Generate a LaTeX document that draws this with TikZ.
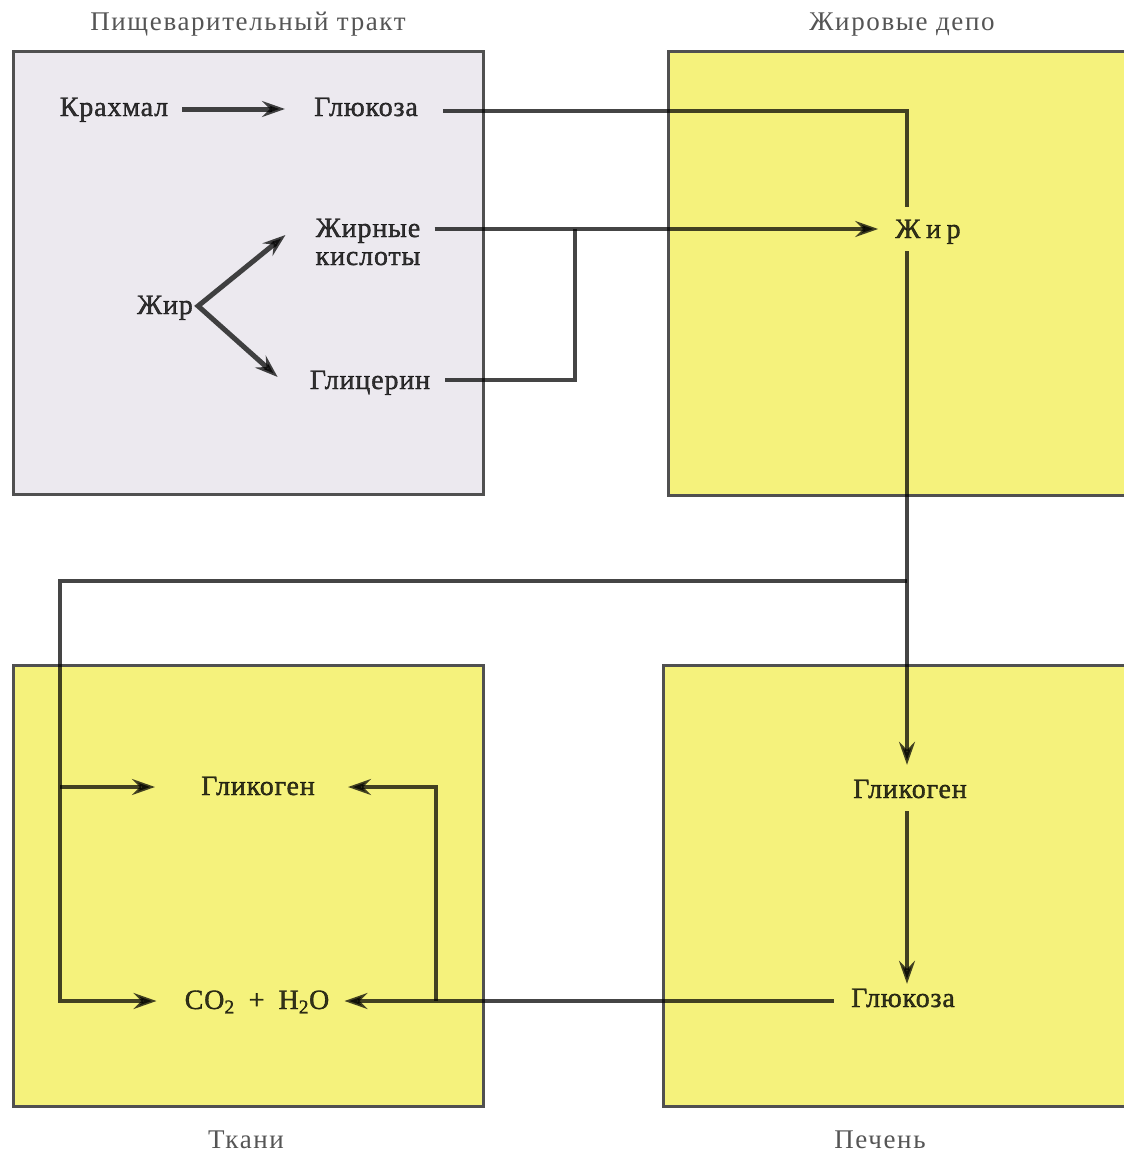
\documentclass[tikz,border=0pt]{standalone}
\usepackage{fontspec}
\setmainfont{Liberation Serif}
\newfontfamily\lblfont[LetterSpace=3,FakeBold=1.2]{Liberation Serif}
\newfontfamily\ttlfont[LetterSpace=6]{Liberation Serif}
\newfontfamily\widefont[LetterSpace=20,FakeBold=1.2]{Liberation Serif}
\usetikzlibrary{arrows.meta,calc}
\definecolor{lav}{HTML}{ECE9EF}
\definecolor{yel}{HTML}{F5F27C}
\definecolor{ink}{HTML}{454545}
\definecolor{boxline}{HTML}{505050}
\definecolor{txt}{HTML}{353535}
\definecolor{ttlc}{HTML}{555555}
\begin{document}
\begin{tikzpicture}[x=1pt,y=-1pt,
  lblbase/.style={font=\lblfont\fontsize{28}{25}\selectfont, text=txt, inner sep=0pt},
  lbl/.style={lblbase, text height=18pt, text depth=0pt},
  ttl/.style={font=\ttlfont\fontsize{27}{28}\selectfont, text=ttlc, inner sep=0pt, text height=17.5pt, text depth=0pt},
  box/.style={draw=boxline, line width=3pt},
  conn/.style={draw=ink, line width=3.2pt},
  heavy/.style={draw=ink, line width=5pt},
  tip/.style={-{Stealth[length=23pt,width=16pt,inset=8pt]}},
  twotip/.style={{Stealth[length=23pt,width=16pt,inset=8pt]}-{Stealth[length=23pt,width=16pt,inset=8pt]}},
]
\useasboundingbox (0,0) rectangle (1124,1154);
\fill[white] (0,0) rectangle (1124,1154);

% regions
\fill[lav] (13,51) rectangle (483,494);
\draw[box] (13,51) rectangle (483,494);
\fill[yel] (668,51) rectangle (1124,495);
\draw[box] (1124,51) -- (668,51) -- (668,495) -- (1124,495);
\fill[yel] (13,665) rectangle (483,1106);
\draw[box] (13,665) rectangle (483,1106);
\fill[yel] (663,665) rectangle (1124,1106);
\draw[box] (1124,665) -- (663,665) -- (663,1106) -- (1124,1106);

% titles
\node[ttl] (tGI) at (248,22) {Пищеварительный тракт};
\node[ttl] (tFat) at (902,22) {Жировые депо};
\node[ttl] (tTis) at (246,1140) {Ткани};
\node[ttl] (tLiv) at (880,1140) {Печень};

\begin{scope}[blend mode=multiply]
% labels
\node[lbl] (krah) at (114,107) {Крахмал};
\node[lbl] (glu1) at (366,107) {Глюкоза};
\node[lblbase, font=\lblfont\fontsize{28}{28}\selectfont, align=center] (fa) at (368,242) {Жирные\\кислоты};
\node[lbl] (zh1) at (165,305) {Жир};
\node[lbl] (glyc) at (370,380) {Глицерин};
\node[lbl, font=\widefont\fontsize{28}{25}\selectfont] (zh2) at (928,229) {Жир};
\node[lbl] (gk1) at (910,789) {Гликоген};
\node[lbl] (gl2) at (903,998) {Глюкоза};
\node[lbl] (gk2) at (258,786) {Гликоген};
\node[lbl] (co2) at (257,1000) {CO\textsubscript{2}\enspace+\enspace H\textsubscript{2}O};

% junctions
\coordinate (jFA) at (575,229);
\coordinate (zT) at (907,207);
\coordinate (zB) at (907,251);
\coordinate (jMid) at (907,581);
\coordinate (cL1) at (60,581);
\coordinate (cL2) at (60,787);
\coordinate (cL3) at (60,1001);
\coordinate (jR) at (436,1001);

% digestive tract
\draw[heavy,tip] ($(krah.east)+(14,2)$) -- ($(glu1.west)+(-29,2)$);
\draw[heavy,twotip] ($(fa.west)+(-30,-7)$) -- ($(zh1.east)+(5,1)$) -- ($(glyc.west)+(-32,-3)$);

% to fat depot
\draw[conn] ($(glu1.east)+(25,4)$) -| (zT);
\draw[conn,tip] ($(fa.east)+(14,-13)$) -- ($(zh2.west)+(-17,0)$);
\draw[conn] ($(glyc.east)+(15,0)$) -| (jFA);

% fat to liver and tissues
\draw[conn,tip] (zB) -- ($(zB |- gk1.north)+(0,-15)$);
\draw[conn,tip] (jMid) -- (cL1) -- (cL3) -- ($(co2.west)+(-28,1)$);
\draw[conn,tip] (cL2) -- ($(gk2.west)+(-46,1)$);

% liver
\draw[conn,tip] ($(zB |- gk1.south)+(0,13)$) -- ($(zB |- gl2.north)+(0,-5)$);
\draw[conn,tip] ($(gl2.west)+(-17,3)$) -- ($(co2.east)+(15,1)$);
\draw[conn,tip] (jR) |- ($(gk2.east)+(33,1)$);
\end{scope}
\end{tikzpicture}
\end{document}
